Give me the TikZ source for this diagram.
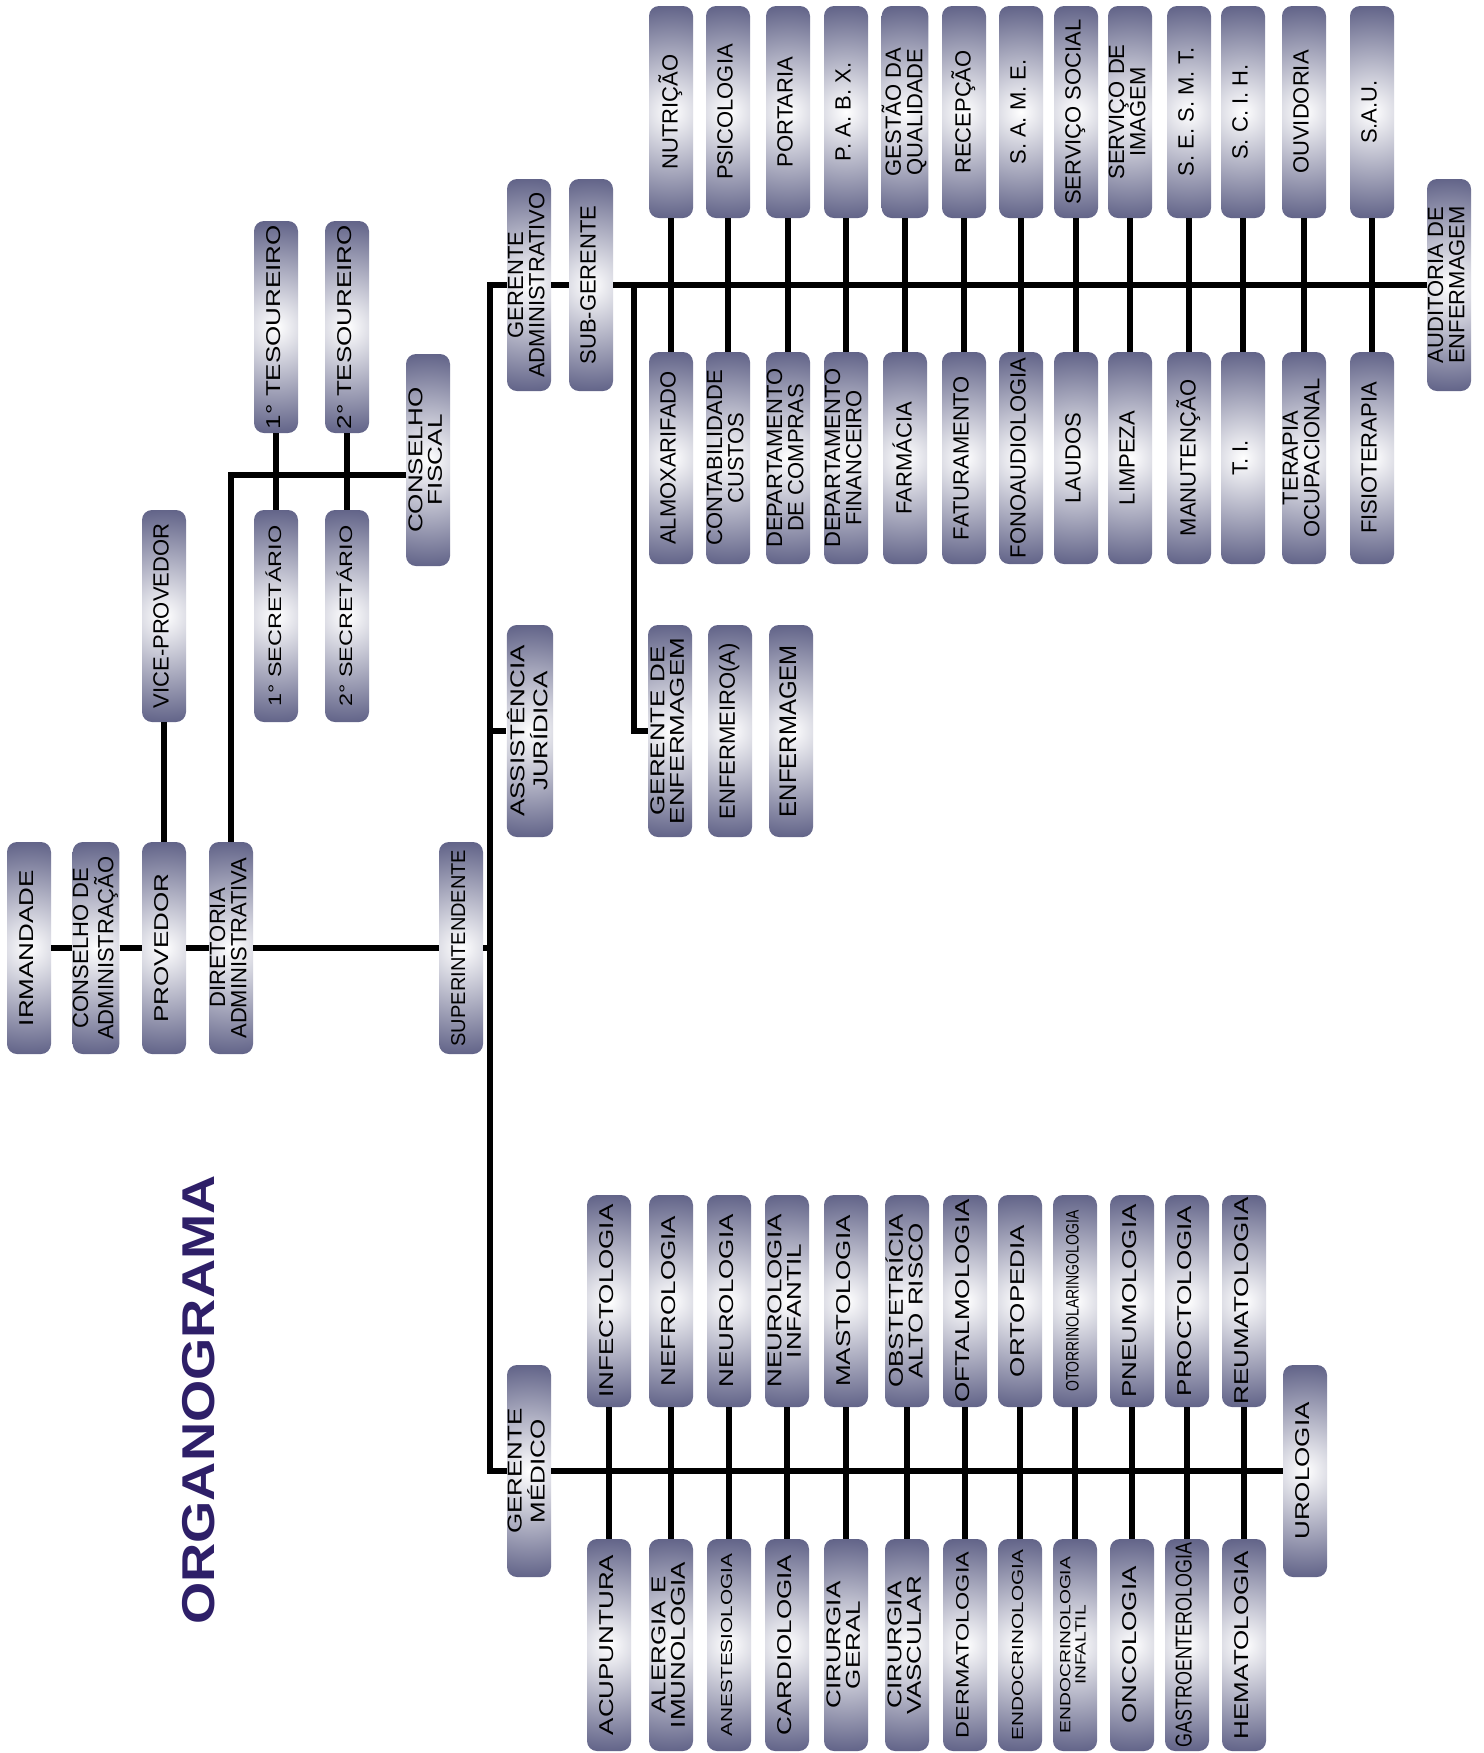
\documentclass[tikz,border=0pt]{standalone}
\usepackage{fontspec}
\usepackage{graphicx}
\setmainfont{Liberation Sans}
\newfontfamily\widefont[FakeStretch=1.3]{Liberation Sans}
\newfontfamily\titlefont[FakeStretch=1.18]{Liberation Sans}
\definecolor{boxedge}{RGB}{84,86,126}
\definecolor{titleblue}{RGB}{46,31,104}
\pgfdeclareradialshading{boxglow}{\pgfpoint{0bp}{0bp}}{color(0bp)=(white); color(25bp)=(boxedge); color(50bp)=(boxedge)}
\newcommand{\vlabel}[1]{\rotatebox{90}{\begin{tabular}{@{}c@{}}#1\end{tabular}}}

\begin{document}
\begin{tikzpicture}[x=0.5pt, y=-0.5pt,
    orgbox/.style={rectangle, rounded corners=5pt, minimum width=22pt, minimum height=106pt, inner sep=0pt,
        path picture={\shade[shading=boxglow] (path picture bounding box.center) circle (58pt);}},
    admbox/.style={orgbox, font=\fontsize{11}{10}\selectfont},
    medbox/.style={orgbox, font=\widefont\fontsize{10}{9.5}\selectfont},
    fs10/.style={},
    fs9/.style={font=\widefont\fontsize{9}{9}\selectfont},
    fs8/.style={font=\widefont\fontsize{8}{8}\selectfont},
    fs7/.style={font=\widefont\fontsize{7.4}{7.6}\selectfont},
    narrow/.style={font=\fontsize{9}{9}\selectfont},
    gastro/.style={font=\fontsize{11.5}{11}\selectfont},
    conn/.style={draw=black, line width=3.3pt}]

\path[fill=white, use as bounding box] (0,0) rectangle (1484,1753);

\node[text=titleblue, inner sep=0pt, font=\titlefont\bfseries\fontsize{23}{23}\selectfont] (title) at (199,1400) {\rotatebox{90}{ORGANOGRAMA}};

% direction
\node[medbox] (irm) at (29,948) {\vlabel{IRMANDADE}};
\node[admbox] (cad) at (96,948) {\vlabel{CONSELHO DE\\ADMINISTRAÇÃO}};
\node[medbox] (prov) at (164,948) {\vlabel{PROVEDOR}};
\node[admbox] (dir) at (231,948) {\vlabel{DIRETORIA\\ADMINISTRATIVA}};
\node[admbox, font=\fontsize{10}{10}\selectfont] (sup) at (461,948) {\vlabel{SUPERINTENDENTE}};
\node[admbox] (vice) at (164,616) {\vlabel{VICE-PROVEDOR}};
\node[medbox] (tes1) at (276,327) {\vlabel{1° TESOUREIRO}};
\node[medbox] (tes2) at (347,327) {\vlabel{2° TESOUREIRO}};
\node[medbox, fs9] (sec1) at (276,616) {\vlabel{1° SECRETÁRIO}};
\node[medbox, fs9] (sec2) at (347,616) {\vlabel{2° SECRETÁRIO}};
\node[medbox] (cf) at (428,460) {\vlabel{CONSELHO\\FISCAL}};

\foreach \a/\b in {irm/cad, cad/prov, prov/dir, dir/sup}
    \draw[conn] (\a) -- (\b);
\draw[conn] (prov) -- (vice);
\draw[conn] (tes1) -- (sec1);
\draw[conn] (tes2) -- (sec2);
\draw[conn] (dir.north) |- ([yshift=-7.5pt]cf.west);

% managers
\node[admbox] (ga) at (529,285) {\vlabel{GERENTE\\ADMINISTRATIVO}};
\node[admbox] (sg) at (591,285) {\vlabel{SUB-GERENTE}};
\node[admbox] (aud) at (1449,285) {\vlabel{AUDITORIA DE\\ENFERMAGEM}};
\node[medbox] (aj) at (530,731) {\vlabel{ASSISTÊNCIA\\JURÍDICA}};
\node[medbox] (ge) at (670,731) {\vlabel{GERENTE DE\\ENFERMAGEM}};
\node[admbox] (enf) at (730,731) {\vlabel{ENFERMEIRO(A)}};
\node[admbox, font=\fontsize{12}{11}\selectfont] (enfm) at (791,731) {\vlabel{ENFERMAGEM}};
\node[medbox] (gm) at (529,1471) {\vlabel{GERENTE\\MÉDICO}};
\node[medbox] (uro) at (1305,1471) {\vlabel{UROLOGIA}};

\coordinate (spine) at (490,948);
\coordinate (nurse) at (634,285);
\draw[conn] (ga.west) -| (spine) |- (gm.west);
\draw[conn] (sup.east) -- (sup.east -| spine);
\draw[conn] (aj.west -| spine) -- (aj.west);
\draw[conn] (ga) -- (sg);
\draw[conn] (sg) -- (aud);
\draw[conn] (nurse) |- (ge.west);
\draw[conn] (gm) -- (uro);

% administrative sectors
\foreach \x/\up/\down [count=\i] in {
    671/NUTRIÇÃO/ALMOXARIFADO,
    728/PSICOLOGIA/{CONTABILIDADE\\CUSTOS},
    788/PORTARIA/{DEPARTAMENTO\\DE COMPRAS},
    846/{P. A. B. X.}/{DEPARTAMENTO\\FINANCEIRO},
    905/{GESTÃO DA\\QUALIDADE}/FARMÁCIA,
    964/RECEPÇÃO/FATURAMENTO,
    1021/{S. A. M. E.}/FONOAUDIOLOGIA,
    1076/{SERVIÇO SOCIAL}/LAUDOS,
    1130/{SERVIÇO DE\\IMAGEM}/LIMPEZA,
    1189/{S. E. S. M. T.}/MANUTENÇÃO,
    1243/{S. C. I. H.}/{T. I.},
    1304/OUVIDORIA/{TERAPIA\\OCUPACIONAL},
    1372/S.A.U./FISIOTERAPIA}
{
    \node[admbox] (au\i) at (\x,112) {\vlabel{\up}};
    \node[admbox] (ad\i) at (\x,458) {\vlabel{\down}};
    \draw[conn] (au\i) -- (ad\i);
}

% medical specialities
\foreach \x/\fa/\up/\fb/\down [count=\i] in {
    609/fs10/INFECTOLOGIA/fs10/ACUPUNTURA,
    671/fs10/NEFROLOGIA/fs10/{ALERGIA E\\IMUNOLOGIA},
    729/fs10/NEUROLOGIA/fs8/ANESTESIOLOGIA,
    787/fs10/{NEUROLOGIA\\INFANTIL}/fs10/CARDIOLOGIA,
    846/fs10/MASTOLOGIA/fs10/{CIRURGIA\\GERAL},
    907/fs10/{OBSTETRÍCIA\\ALTO RISCO}/fs10/{CIRURGIA\\VASCULAR},
    965/fs10/OFTALMOLOGIA/fs9/DERMATOLOGIA,
    1020/fs10/ORTOPEDIA/fs8/ENDOCRINOLOGIA,
    1075/narrow/{\scalebox{0.78}[1]{OTORRINOLARINGOLOGIA}}/fs7/{ENDOCRINOLOGIA\\INFALTIL},
    1132/fs10/PNEUMOLOGIA/fs10/ONCOLOGIA,
    1187/fs10/PROCTOLOGIA/gastro/{\scalebox{0.78}[1]{GASTROENTEROLOGIA}},
    1244/fs10/REUMATOLOGIA/fs10/HEMATOLOGIA}
{
    \node[medbox, \fa] (mu\i) at (\x,1301) {\vlabel{\up}};
    \node[medbox, \fb] (md\i) at (\x,1645) {\vlabel{\down}};
    \draw[conn] (mu\i) -- (md\i);
}
\end{tikzpicture}
\end{document}
